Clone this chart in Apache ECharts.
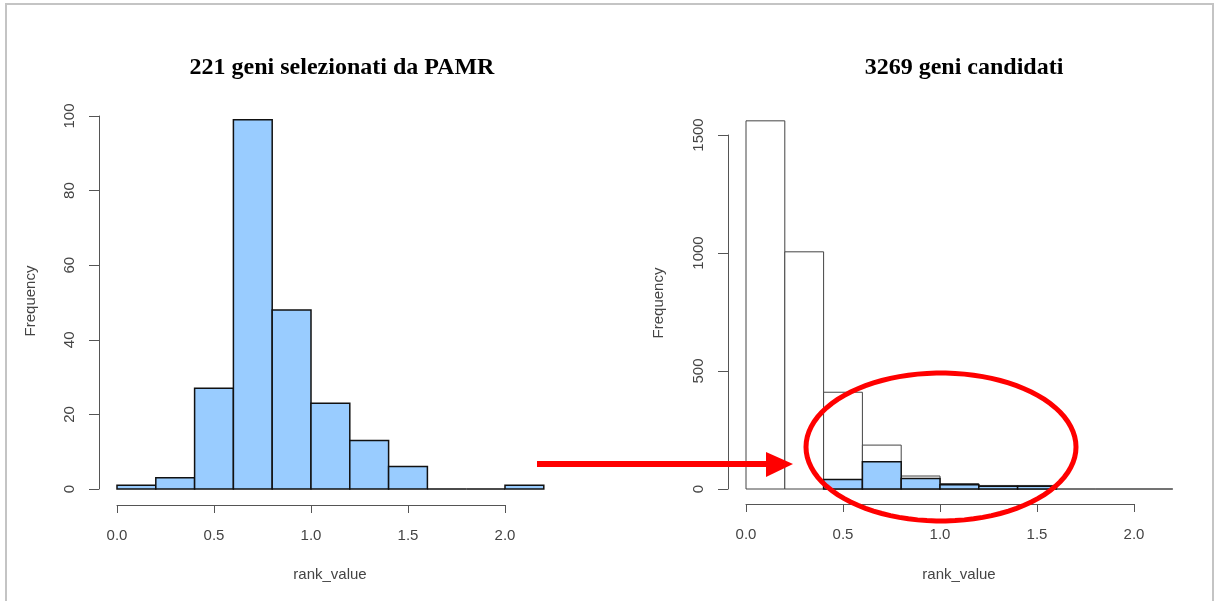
<!DOCTYPE html>
<html>
<head>
<meta charset="utf-8">
<script src="https://cdn.jsdelivr.net/npm/echarts@6/dist/echarts.min.js"></script>
<style>
html,body{margin:0;padding:0;background:#fff;}
#chart{width:1216px;height:601px;}
</style>
</head>
<body>
<div id="chart"></div>
<script>
// ---- data ----
const binStarts = [0.0, 0.2, 0.4, 0.6, 0.8, 1.0, 1.2, 1.4, 1.6, 1.8, 2.0];
const binWidth = 0.2;
const leftTitle = '221 geni selezionati da PAMR';
const rightTitle = '3269 geni candidati';
const leftCounts = [1, 3, 27, 99, 48, 23, 13, 6, 0, 0, 1];          // 221 geni (PAMR)
const rightAllCounts = [1560, 1005, 410, 186, 55, 23, 15, 15, 0, 0, 0]; // 3269 candidati
const rightSelCounts = [0, 0, 40, 115, 45, 18, 12, 12, 0, 0, 0];     // overlay (selezionati)
const xTicks = [0, 0.5, 1.0, 1.5, 2.0];
const leftYTicks = [0, 20, 40, 60, 80, 100];
const rightYTicks = [0, 500, 1000, 1500];
const xLabel = 'rank_value';
const yLabel = 'Frequency';

function binData(counts, keepZero) {
  const out = [];
  counts.forEach((c, i) => {
    if (c > 0 || keepZero) out.push([binStarts[i], +(binStarts[i] + binWidth).toFixed(1), c]);
  });
  return out;
}

function rectRenderer(fill, stroke, lw) {
  return function (params, api) {
    const p0 = api.coord([api.value(0), api.value(2)]);
    const p1 = api.coord([api.value(1), 0]);
    return {
      type: 'rect',
      shape: { x: p0[0], y: p0[1], width: p1[0] - p0[0], height: p1[1] - p0[1] },
      style: { fill: fill, stroke: stroke, lineWidth: lw }
    };
  };
}

const axisColor = '#555';
const labelColor = '#444';
const sans = 'Liberation Sans, Arial, sans-serif';

function xAxisCfg(gridIndex, offset) {
  return {
    type: 'value', gridIndex: gridIndex, min: xTicks[0], max: xTicks[xTicks.length - 1], interval: 0.5,
    offset: offset,
    axisLine: { show: true, onZero: false, lineStyle: { color: axisColor, width: 1 } },
    axisTick: { show: true, inside: false, length: 8, lineStyle: { color: axisColor } },
    axisLabel: { color: labelColor, fontFamily: sans, fontSize: 15, margin: 23, formatter: v => v.toFixed(1) },
    splitLine: { show: false }
  };
}
function yAxisCfg(gridIndex, ticks, offset) {
  return {
    type: 'value', gridIndex: gridIndex, min: ticks[0], max: ticks[ticks.length - 1],
    interval: ticks[1] - ticks[0], offset: offset,
    axisLine: { show: true, onZero: false, lineStyle: { color: axisColor, width: 1 } },
    axisTick: { show: true, inside: false, length: 10, lineStyle: { color: axisColor } },
    axisLabel: { color: labelColor, fontFamily: sans, fontSize: 15, margin: 22, rotate: 90, formatter: v => String(v) },
    splitLine: { show: false }
  };
}

// ellipse annotation points
const ell = [];
const ecx = 941, ecy = 447, erx = 135, ery = 74;
for (let k = 0; k < 90; k++) {
  const t = k / 90 * Math.PI * 2;
  ell.push([ecx + erx * Math.cos(t), ecy + ery * Math.sin(t)]);
}

const chart = echarts.init(document.getElementById('chart'), null, { renderer: 'canvas' });
chart.setOption({
  animation: false,
  backgroundColor: '#fff',
  grid: [
    { left: 117, top: 116, width: 388, height: 373 },
    { left: 746, top: 135, width: 388, height: 354 }
  ],
  xAxis: [xAxisCfg(0, 16), xAxisCfg(1, 15)],
  yAxis: [yAxisCfg(0, leftYTicks, 18), yAxisCfg(1, rightYTicks, 18)],
  series: [
    { type: 'custom', xAxisIndex: 0, yAxisIndex: 0, clip: false,
      renderItem: rectRenderer('#99CCFF', '#111', 1.5), data: binData(leftCounts, true) },
    { type: 'custom', xAxisIndex: 1, yAxisIndex: 1, clip: false,
      renderItem: rectRenderer('#fff', '#444', 1), data: binData(rightAllCounts, true) },
    { type: 'custom', xAxisIndex: 1, yAxisIndex: 1, clip: false,
      renderItem: rectRenderer('#99CCFF', '#111', 1.5), data: binData(rightSelCounts, false) }
  ],
  graphic: [
    { type: 'rect', z: 100, shape: { x: 6, y: 4, width: 1207, height: 620 }, style: { fill: 'none', stroke: '#c4c4c4', lineWidth: 2 }, silent: true },
    { type: 'text', z: 100, x: 342, y: 68, style: { text: leftTitle, font: 'bold 24px "Liberation Serif", "Times New Roman", serif', fill: '#000', textAlign: 'center', textVerticalAlign: 'middle' } },
    { type: 'text', z: 100, x: 964, y: 68, style: { text: rightTitle, font: 'bold 24px "Liberation Serif", "Times New Roman", serif', fill: '#000', textAlign: 'center', textVerticalAlign: 'middle' } },
    { type: 'text', z: 100, x: 330, y: 575, style: { text: xLabel, font: '15px ' + sans, fill: labelColor, textAlign: 'center', textVerticalAlign: 'middle' } },
    { type: 'text', z: 100, x: 959, y: 575, style: { text: xLabel, font: '15px ' + sans, fill: labelColor, textAlign: 'center', textVerticalAlign: 'middle' } },
    { type: 'text', z: 100, x: 31, y: 301, rotation: Math.PI / 2, style: { text: yLabel, font: '15px ' + sans, fill: labelColor, textAlign: 'center', textVerticalAlign: 'middle' } },
    { type: 'text', z: 100, x: 659, y: 303, rotation: Math.PI / 2, style: { text: yLabel, font: '15px ' + sans, fill: labelColor, textAlign: 'center', textVerticalAlign: 'middle' } },
    { type: 'rect', z: 100, shape: { x: 537, y: 461, width: 232, height: 6 }, style: { fill: '#ff0000' } },
    { type: 'polygon', z: 100, shape: { points: [[766, 452], [793, 464], [766, 477]] }, style: { fill: '#ff0000' } },
    { type: 'polygon', z: 100, shape: { points: ell, smooth: 0 }, style: { fill: 'none', stroke: '#ff0000', lineWidth: 5 } }
  ]
});
</script>
</body>
</html>
